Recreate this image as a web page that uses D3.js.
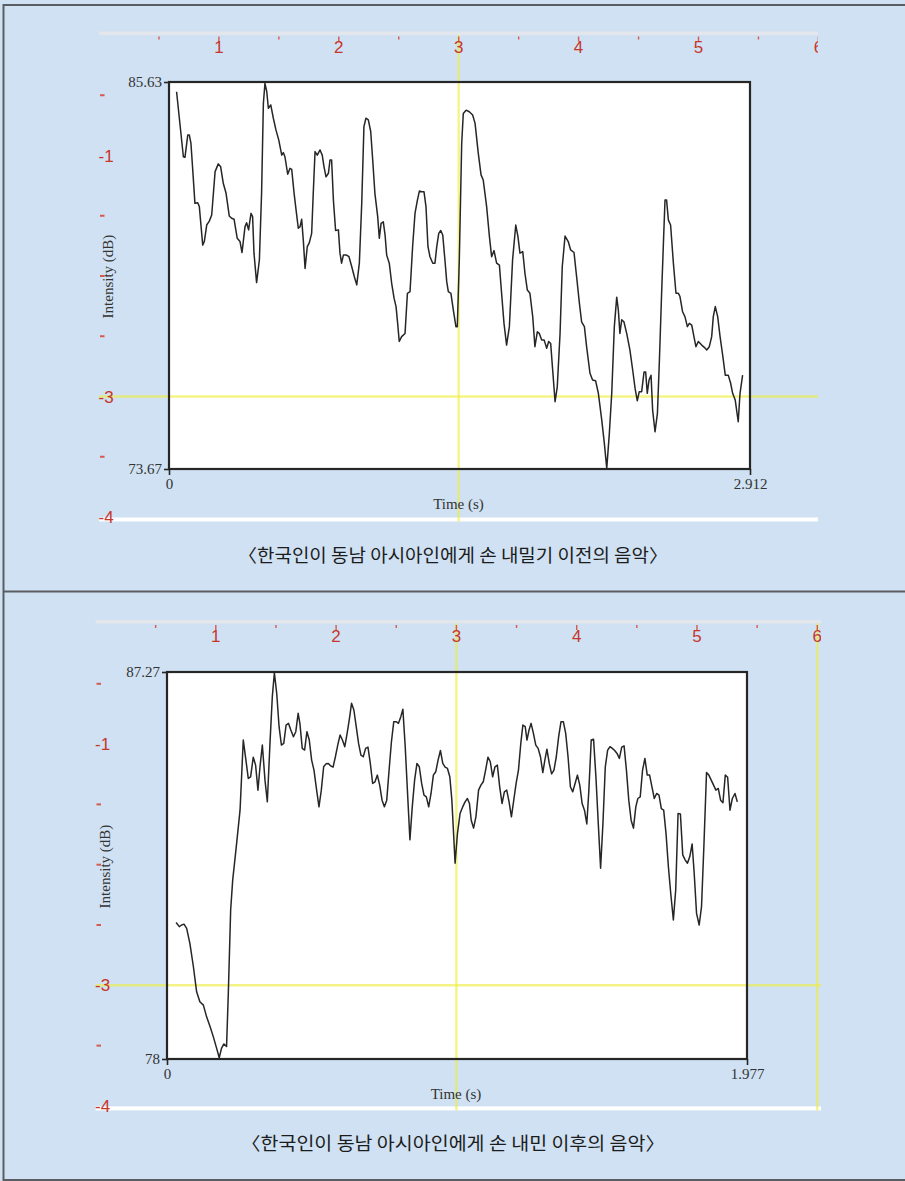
<!DOCTYPE html>
<html>
<head>
<meta charset="utf-8">
<script src="https://cdn.jsdelivr.net/npm/d3@7"></script>
<style>
  html, body { margin: 0; padding: 0; background: #cfe1f2; }
  svg { display: block; }
</style>
</head>
<body>
<svg id="fig" width="905" height="1181"></svg>
<script>
// Intensity contour before the gesture: [time (s), intensity (dB)]
const beforeIntensity = [
  [0.038,85.33],[0.072,83.32],[0.080,83.30],[0.094,83.99],[0.102,83.99],[0.110,83.73],[0.119,82.91],[0.130,81.88],[0.144,81.90],[0.152,81.78],
  [0.169,80.59],[0.177,80.70],[0.189,81.21],[0.202,81.33],[0.214,81.52],[0.231,82.86],[0.247,83.10],[0.259,83.01],[0.272,82.50],[0.286,82.19],
  [0.302,81.49],[0.314,81.42],[0.326,81.39],[0.342,80.80],[0.356,80.70],[0.366,80.36],[0.381,81.16],[0.389,81.28],[0.399,81.06],[0.411,81.57],
  [0.419,81.47],[0.426,80.34],[0.439,79.43],[0.453,80.13],[0.464,82.19],[0.473,84.97],[0.481,85.59],[0.490,85.33],[0.498,84.82],[0.510,84.92],
  [0.523,84.51],[0.536,84.15],[0.550,83.84],[0.565,83.37],[0.573,83.45],[0.581,83.32],[0.595,82.78],[0.606,82.96],[0.615,82.93],[0.627,82.19],
  [0.637,81.67],[0.648,81.11],[0.657,81.16],[0.665,81.39],[0.673,80.75],[0.682,79.87],[0.693,80.54],[0.703,80.66],[0.715,80.95],[0.723,82.19],
  [0.732,83.48],[0.743,83.37],[0.757,83.53],[0.768,83.37],[0.777,83.01],[0.787,82.70],[0.799,82.81],[0.807,83.22],[0.815,83.22],[0.824,81.98],
  [0.835,81.04],[0.849,81.06],[0.857,80.34],[0.865,80.03],[0.874,80.28],[0.890,80.28],[0.902,80.23],[0.916,79.92],[0.929,79.61],[0.941,79.36],
  [0.954,80.03],[0.966,81.88],[0.977,84.25],[0.987,84.51],[0.999,84.46],[1.011,84.10],[1.021,83.22],[1.032,82.19],[1.046,81.47],[1.054,80.80],
  [1.063,81.26],[1.074,81.31],[1.083,80.90],[1.091,80.28],[1.104,80.03],[1.116,79.41],[1.128,78.95],[1.138,78.69],[1.146,78.17],[1.154,77.61],
  [1.166,77.76],[1.183,77.86],[1.195,79.10],[1.208,79.15],[1.221,80.54],[1.233,81.57],[1.245,81.98],[1.255,82.26],[1.266,82.24],[1.278,82.24],
  [1.288,81.78],[1.298,80.54],[1.308,80.23],[1.322,80.03],[1.333,80.03],[1.342,80.54],[1.352,80.95],[1.362,81.04],[1.372,80.90],[1.383,80.13],
  [1.392,79.46],[1.400,79.15],[1.413,79.10],[1.425,78.59],[1.438,78.07],[1.445,78.07],[1.455,80.13],[1.467,83.73],[1.475,84.66],[1.489,84.76],
  [1.505,84.71],[1.522,84.61],[1.534,84.35],[1.550,83.43],[1.564,82.76],[1.575,82.60],[1.592,81.78],[1.606,80.85],[1.617,80.23],[1.629,80.42],
  [1.642,80.03],[1.656,79.97],[1.667,79.10],[1.679,78.17],[1.692,77.50],[1.706,78.07],[1.722,80.13],[1.738,81.21],[1.749,80.85],[1.759,80.34],
  [1.773,80.39],[1.784,79.72],[1.796,79.20],[1.809,79.10],[1.823,78.38],[1.834,77.45],[1.846,77.91],[1.856,77.86],[1.868,77.66],[1.880,77.66],
  [1.893,77.40],[1.903,77.61],[1.913,77.55],[1.923,76.73],[1.935,75.75],[1.946,76.21],[1.960,77.86],[1.971,79.92],[1.985,80.87],[2.001,80.70],
  [2.013,80.44],[2.030,80.36],[2.043,79.61],[2.057,78.79],[2.068,78.22],[2.082,78.07],[2.093,77.45],[2.110,76.63],[2.123,76.42],[2.138,76.40],
  [2.152,76.01],[2.169,75.18],[2.182,74.46],[2.194,73.69],[2.207,74.77],[2.219,76.01],[2.232,78.07],[2.244,78.98],[2.252,78.59],[2.260,77.86],
  [2.269,78.28],[2.280,78.22],[2.294,77.86],[2.310,77.35],[2.324,76.73],[2.336,76.16],[2.347,75.78],[2.357,76.06],[2.369,76.06],[2.381,76.67],
  [2.389,76.67],[2.397,76.01],[2.406,76.42],[2.416,76.57],[2.424,75.49],[2.436,74.82],[2.448,75.39],[2.458,77.04],[2.469,79.10],[2.478,80.64],
  [2.486,81.98],[2.494,81.98],[2.503,81.36],[2.514,81.21],[2.528,80.03],[2.541,79.10],[2.553,79.10],[2.561,79.00],[2.574,78.53],[2.586,78.38],
  [2.598,78.07],[2.608,78.17],[2.620,78.12],[2.631,77.76],[2.641,77.45],[2.653,77.61],[2.670,77.50],[2.683,77.43],[2.695,77.35],[2.708,77.45],
  [2.720,77.76],[2.728,78.38],[2.738,78.69],[2.750,78.38],[2.762,77.76],[2.775,77.19],[2.788,76.57],[2.803,76.57],[2.815,76.32],[2.825,76.01],
  [2.838,75.80],[2.853,75.13],[2.862,76.01],[2.875,76.57]
];

// Intensity contour after the gesture: [time (s), intensity (dB)]
const afterIntensity = [
  [0.031,81.27],[0.042,81.17],[0.050,81.21],[0.058,81.23],[0.067,81.13],[0.078,80.77],[0.090,80.21],[0.101,79.61],[0.112,79.37],[0.124,79.29],
  [0.135,79.01],[0.147,78.77],[0.158,78.53],[0.169,78.26],[0.178,78.03],[0.186,78.26],[0.194,78.36],[0.203,78.30],[0.209,79.57],[0.217,81.57],
  [0.224,82.29],[0.235,83.01],[0.249,83.96],[0.260,85.64],[0.269,85.16],[0.277,84.72],[0.285,84.76],[0.294,85.23],[0.302,85.04],[0.310,84.44],
  [0.317,85.00],[0.325,85.52],[0.334,84.68],[0.342,84.16],[0.351,85.56],[0.359,86.68],[0.366,87.25],[0.374,86.76],[0.382,85.96],[0.390,85.52],
  [0.398,85.56],[0.406,86.00],[0.414,86.04],[0.422,85.88],[0.431,85.72],[0.439,85.84],[0.447,86.28],[0.453,86.04],[0.461,85.44],[0.469,85.40],
  [0.477,85.84],[0.485,85.64],[0.493,85.16],[0.501,84.92],[0.510,84.44],[0.518,84.04],[0.526,84.44],[0.534,85.00],[0.542,85.07],[0.550,85.08],
  [0.558,85.02],[0.566,84.99],[0.574,85.24],[0.582,85.52],[0.590,85.76],[0.598,85.64],[0.606,85.48],[0.614,85.80],[0.622,86.16],[0.629,86.52],
  [0.637,86.36],[0.645,85.96],[0.653,85.56],[0.661,85.28],[0.669,85.24],[0.677,85.44],[0.685,85.47],[0.693,85.08],[0.701,84.60],[0.709,84.64],
  [0.717,84.80],[0.725,84.56],[0.733,84.20],[0.741,84.04],[0.749,84.20],[0.757,84.92],[0.765,85.60],[0.773,86.08],[0.781,86.08],[0.789,86.04],
  [0.797,86.20],[0.804,86.38],[0.812,85.48],[0.820,84.36],[0.828,83.25],[0.836,84.04],[0.844,84.68],[0.852,85.08],[0.860,85.00],[0.868,84.60],
  [0.876,84.32],[0.884,84.28],[0.892,84.04],[0.900,84.36],[0.908,84.80],[0.916,84.88],[0.924,85.16],[0.932,85.39],[0.940,85.08],[0.948,84.99],
  [0.956,84.96],[0.964,84.76],[0.971,84.20],[0.982,82.69],[0.990,83.40],[0.999,83.88],[1.008,84.04],[1.016,84.16],[1.024,84.24],[1.031,84.12],
  [1.037,83.72],[1.045,83.53],[1.053,83.80],[1.062,84.44],[1.070,84.56],[1.078,84.64],[1.086,84.92],[1.094,85.23],[1.102,85.12],[1.110,84.76],
  [1.118,85.00],[1.126,85.04],[1.134,84.52],[1.142,84.12],[1.150,84.40],[1.158,84.44],[1.166,84.16],[1.174,83.80],[1.182,84.20],[1.190,84.60],
  [1.198,84.92],[1.206,85.56],[1.213,86.00],[1.221,85.96],[1.227,85.64],[1.234,85.88],[1.241,86.04],[1.249,85.80],[1.257,85.52],[1.265,85.44],
  [1.273,85.24],[1.281,84.86],[1.288,85.16],[1.295,85.42],[1.303,85.08],[1.311,84.83],[1.319,84.92],[1.327,85.24],[1.335,85.72],[1.343,86.08],
  [1.351,86.08],[1.359,85.80],[1.367,85.24],[1.375,84.52],[1.383,84.40],[1.391,84.60],[1.399,84.80],[1.407,84.56],[1.415,84.12],[1.423,83.96],
  [1.431,83.63],[1.438,84.44],[1.446,85.64],[1.454,85.66],[1.462,84.76],[1.470,83.65],[1.478,82.57],[1.486,83.65],[1.494,85.00],[1.502,85.40],
  [1.510,85.48],[1.518,85.44],[1.526,85.39],[1.534,85.32],[1.542,85.20],[1.550,85.47],[1.558,85.50],[1.566,84.92],[1.574,84.20],[1.582,83.72],
  [1.590,83.53],[1.598,84.04],[1.605,84.24],[1.613,84.28],[1.621,84.92],[1.629,85.20],[1.637,84.80],[1.645,84.80],[1.653,84.52],[1.661,84.24],
  [1.669,84.36],[1.677,84.32],[1.685,84.00],[1.693,83.96],[1.701,83.40],[1.709,82.61],[1.717,81.97],[1.726,81.33],[1.734,82.05],[1.742,83.88],
  [1.750,83.87],[1.758,82.89],[1.766,82.77],[1.774,82.69],[1.782,82.85],[1.790,83.15],[1.797,82.45],[1.805,81.49],[1.814,81.21],[1.822,81.65],
  [1.830,83.09],[1.839,84.86],[1.847,84.80],[1.855,84.68],[1.863,84.56],[1.871,84.44],[1.879,84.48],[1.887,84.20],[1.895,84.14],[1.903,84.80],
  [1.911,84.75],[1.919,83.96],[1.927,84.24],[1.936,84.36],[1.944,84.16]
];

// Axis extents printed on each plot frame
const beforeTimeRange = [0, 2.912];
const beforeDbRange = [73.67, 85.63];
const afterTimeRange = [0, 1.977];
const afterDbRange = [78, 87.27];

// Axis titles and panel captions
const timeTitle = "Time (s)";
const intensityTitle = "Intensity (dB)";
const captions = [
  "〈한국인이 동남 아시아인에게 손 내밀기 이전의 음악〉",
  "〈한국인이 동남 아시아인에게 손 내민 이후의 음악〉"
];

// On-screen ruler labels
const rulerTopLabels = [1, 2, 3, 4, 5, 6];
const rulerSideLabels = [-1, -3, -4];

const RED = "#c8352a";
const RED_TICK = "#d65a4f";
const YELLOW = "rgba(238,238,60,0.62)";
const SERIF = "'Liberation Serif', 'Times New Roman', serif";
const NARROW = "'Liberation Sans Narrow', 'Liberation Sans', Arial, sans-serif";

const svg = d3.select("#fig");

// page background and outer rules
svg.append("rect").attr("width", 905).attr("height", 1181).attr("fill", "#cfe1f2");
svg.append("rect").attr("x", 3.5).attr("y", 5).attr("width", 905).attr("height", 1175)
  .attr("fill", "none").attr("stroke", "#5a5e63").attr("stroke-width", 2);
svg.append("line").attr("x1", 3).attr("x2", 905).attr("y1", 591.5).attr("y2", 591.5)
  .attr("stroke", "#5a5e63").attr("stroke-width", 2);

const panels = [
  {
    series: beforeIntensity, timeRange: beforeTimeRange, dbRange: beforeDbRange, caption: captions[0],
    frame: { l: 169, r: 750, t: 82, b: 469 },
    ruler: { x0: 99, ux: 119.9, y0: 35, uy: 120.5, right: 818 },
    cursorCols: [3], cursorRow: -3, captionY: 562, captionWidth: 430
  },
  {
    series: afterIntensity, timeRange: afterTimeRange, dbRange: afterDbRange, caption: captions[1],
    frame: { l: 167, r: 747, t: 672, b: 1059 },
    ruler: { x0: 95.5, ux: 120.3, y0: 623.5, uy: 120.6, right: 821 },
    cursorCols: [3, 6], cursorRow: -3, captionY: 1150, captionWidth: 424
  }
];

panels.forEach((p, i) => drawPanel(p, i));

function drawPanel(p, idx) {
  const g = svg.append("g");
  const R = p.ruler, F = p.frame;
  const rx = d3.scaleLinear([0, 6], [R.x0, R.x0 + 6 * R.ux]);
  const ry = d3.scaleLinear([0, -4], [R.y0, R.y0 + 4 * R.uy]);
  const rulerBottom = ry(-4);

  const clipId = "rulerClip" + idx;
  svg.append("clipPath").attr("id", clipId).append("rect")
    .attr("x", rx(0) - 4).attr("y", R.y0 - 5)
    .attr("width", R.right - rx(0) + 4).attr("height", rulerBottom - R.y0 + 12);

  // ruler strips (top band and bottom band)
  g.append("rect").attr("x", rx(0)).attr("y", R.y0 - 3.5)
    .attr("width", R.right - rx(0)).attr("height", 3.5).attr("fill", "#e3e6ea");
  g.append("rect").attr("x", rx(0)).attr("y", rulerBottom + 0.5)
    .attr("width", R.right - rx(0)).attr("height", 4).attr("fill", "#ffffff");

  // plot area
  const x = d3.scaleLinear(p.timeRange, [F.l, F.r]);
  const y = d3.scaleLinear(p.dbRange, [F.b, F.t]);
  g.append("rect").attr("x", F.l).attr("y", F.t)
    .attr("width", F.r - F.l).attr("height", F.b - F.t).attr("fill", "#ffffff");

  // yellow cursor lines
  p.cursorCols.forEach(c => {
    g.append("line").attr("x1", rx(c)).attr("x2", rx(c))
      .attr("y1", R.y0).attr("y2", rulerBottom + 4.5)
      .attr("stroke", YELLOW).attr("stroke-width", 2.4);
  });
  g.append("line").attr("x1", rx(0)).attr("x2", R.right)
    .attr("y1", ry(p.cursorRow)).attr("y2", ry(p.cursorRow))
    .attr("stroke", YELLOW).attr("stroke-width", 2.4);

  // ruler marks and numbers
  const rg = g.append("g").attr("clip-path", `url(#${clipId})`);
  const halfSteps = d3.range(0.5, 6.01, 0.5);
  rg.selectAll("line.tt").data(halfSteps).join("line")
    .attr("x1", d => rx(d)).attr("x2", d => rx(d))
    .attr("y1", R.y0 + 1.5).attr("y2", d => R.y0 + (Number.isInteger(d) ? 6.5 : 4.5))
    .attr("stroke", RED_TICK).attr("stroke-width", 1.4);
  rg.selectAll("text.tn").data(rulerTopLabels).join("text")
    .attr("x", d => rx(d)).attr("y", R.y0 + 18)
    .attr("text-anchor", "middle").attr("fill", RED)
    .attr("font-family", NARROW).attr("font-size", 17).text(d => d);

  const sideSteps = d3.range(-0.5, -4.01, -0.5).filter(d => !rulerSideLabels.includes(d));
  g.selectAll(null).data(sideSteps).join("rect")
    .attr("x", R.x0 + 1).attr("y", d => ry(d) - 1)
    .attr("width", 4.5).attr("height", 2).attr("fill", RED_TICK);
  g.selectAll(null).data(rulerSideLabels).join("text")
    .attr("x", R.x0 - 0.5).attr("y", d => ry(d)).attr("dy", "0.36em")
    .attr("fill", RED).attr("font-family", NARROW).attr("font-size", 17)
    .text(d => "-" + Math.abs(d));

  // intensity contour
  g.append("path").datum(p.series)
    .attr("fill", "none").attr("stroke", "#262626").attr("stroke-width", 1.5)
    .attr("stroke-linejoin", "round")
    .attr("d", d3.line().x(d => x(d[0])).y(d => y(d[1])));

  // frame
  g.append("rect").attr("x", F.l).attr("y", F.t)
    .attr("width", F.r - F.l).attr("height", F.b - F.t)
    .attr("fill", "none").attr("stroke", "#262626").attr("stroke-width", 2.2);

  // axes: extent labels only
  const fmt = d => String(d);
  const ax = g.append("g").attr("transform", `translate(${F.l},0)`)
    .call(d3.axisLeft(y).tickValues(p.dbRange).tickSize(5).tickPadding(2).tickFormat(fmt));
  const bx = g.append("g").attr("transform", `translate(0,${F.b})`)
    .call(d3.axisBottom(x).tickValues(p.timeRange).tickSize(6).tickPadding(3).tickFormat(fmt));
  [ax, bx].forEach(a => {
    a.select(".domain").remove();
    a.selectAll(".tick line").attr("stroke", "#262626").attr("stroke-width", 1.6);
    a.selectAll(".tick text").attr("fill", "#333").attr("font-family", SERIF).attr("font-size", 15);
  });

  // axis titles
  g.append("text").attr("x", (F.l + F.r) / 2 - 1).attr("y", F.b + 40)
    .attr("text-anchor", "middle").attr("fill", "#333")
    .attr("font-family", SERIF).attr("font-size", 15).text(timeTitle);
  g.append("text")
    .attr("transform", `translate(${R.x0 + 14},${(F.t + F.b) / 2 + 1}) rotate(-90)`)
    .attr("text-anchor", "middle").attr("fill", "#333")
    .attr("font-family", SERIF).attr("font-size", 15).text(intensityTitle);

  // caption
  g.append("text").attr("x", 453).attr("y", p.captionY)
    .attr("text-anchor", "middle").attr("fill", "#1c1c1c")
    .attr("font-family", "'Noto Sans CJK KR', 'Noto Sans', sans-serif")
    .attr("font-size", 18)
    .attr("textLength", p.captionWidth).attr("lengthAdjust", "spacingAndGlyphs")
    .text(p.caption);
}
</script>
</body>
</html>
